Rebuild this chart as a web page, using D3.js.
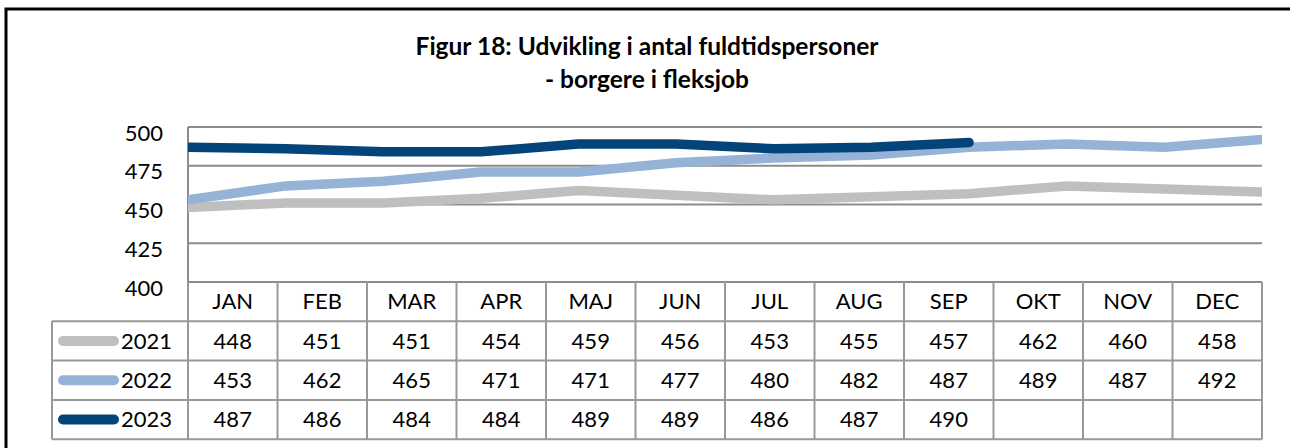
<!DOCTYPE html>
<html>
<head>
<meta charset="utf-8">
<script src="https://cdn.jsdelivr.net/npm/d3@7"></script>
<style>
body { margin: 0; background: #fff; }
text { font-family: Lato, "Open Sans", sans-serif; fill: #000; }
</style>
</head>
<body>
<div id="my_viz"></div>
<script>
const months = ["JAN","FEB","MAR","APR","MAJ","JUN","JUL","AUG","SEP","OKT","NOV","DEC"]
const years = ["2021","2022","2023"]
const v2021 = [448,451,451,454,459,456,453,455,457,462,460,458]
const v2022 = [453,462,465,471,471,477,480,482,487,489,487,492]
const v2023 = [487,486,484,484,489,489,486,487,490]
const yTicks = [400,425,450,475,500]
const colors = ["#bfbfbf","#95b3d7","#03457a"]

const width = 1290
const height = 448
const plot = {left:188, right:1262, top:127, bottom:282}
const rowH = 39.3
const legendLeft = 52
const fs = "22px"

const series = years.map((y,i) => ({key:y, values:[v2021,v2022,v2023][i], color:colors[i]}))

var svg = d3.select("#my_viz")
.append("svg")
.attr("width", width)
.attr("height", height)

// outer chart border
svg.append("rect")
.attr("x", 6).attr("y", 9)
.attr("width", 1320).attr("height", 600)
.attr("fill", "none")
.attr("stroke", "#000")
.attr("stroke-width", 3)

// title
svg.append("text")
.attr("x", 647).attr("y", 55)
.attr("text-anchor", "middle")
.style("font-size", "24.5px").style("font-weight", "bold")
.text("Figur 18: Udvikling i antal fuldtidspersoner")
svg.append("text")
.attr("x", 647).attr("y", 88)
.attr("text-anchor", "middle")
.style("font-size", "24.5px").style("font-weight", "bold")
.text("- borgere i fleksjob")

var yAxis = d3.scaleLinear()
.domain([400, 500])
.range([plot.bottom, plot.top])

var xLine = d3.scalePoint()
.domain(months)
.range([plot.left, plot.right])

var xCol = d3.scaleBand()
.domain(months)
.range([plot.left, plot.right])

// gridlines
svg.append("g")
.selectAll("line")
.data(yTicks)
.join("line")
.attr("x1", plot.left).attr("x2", plot.right)
.attr("y1", d => yAxis(d)).attr("y2", d => yAxis(d))
.attr("stroke", "#8c8c8c").attr("stroke-width", 2)

// y labels (sit a little below their gridline, as in the source)
svg.append("g")
.selectAll("text")
.data(yTicks)
.join("text")
.attr("x", 163)
.attr("y", d => yAxis(d) + 6)
.attr("dy", "0.35em")
.attr("text-anchor", "end")
.style("font-size", fs)
.text(d => d)

// plot left border
svg.append("line")
.attr("x1", plot.left).attr("x2", plot.left)
.attr("y1", plot.top).attr("y2", plot.bottom)
.attr("stroke", "#8c8c8c").attr("stroke-width", 2)

svg.append("clipPath").attr("id", "plotclip")
.append("rect")
.attr("x", plot.left).attr("y", plot.top - 20)
.attr("width", plot.right - plot.left).attr("height", plot.bottom - plot.top + 20)

var line = d3.line()
.x((d,i) => xLine(months[i]))
.y(d => yAxis(d))

svg.append("g")
.attr("clip-path", "url(#plotclip)")
.selectAll("path")
.data(series)
.join("path")
.attr("d", d => line(d.values))
.attr("fill", "none")
.attr("stroke", d => d.color)
.attr("stroke-width", 9.5)
.attr("stroke-linecap", "round")
.attr("stroke-linejoin", "round")

// data table
var table = svg.append("g")
const gridColor = "#999"
const headTop = plot.bottom
const rowsTop = headTop + rowH
const tableBottom = rowsTop + rowH * 3

// header cells
table.selectAll(".head")
.data(months)
.join("text")
.attr("class", "head")
.attr("x", d => xCol(d) + xCol.bandwidth()/2)
.attr("y", headTop + rowH/2 - 1)
.attr("dy", "0.36em")
.attr("text-anchor", "middle")
.style("font-size", fs)
.text(d => d)

// horizontal rules
const hLines = [rowsTop, rowsTop + rowH, rowsTop + rowH*2, tableBottom]
table.selectAll(".hl")
.data(hLines)
.join("line")
.attr("x1", legendLeft).attr("x2", plot.right)
.attr("y1", d => d).attr("y2", d => d)
.attr("stroke", gridColor).attr("stroke-width", 2)

// vertical rules
const vCols = months.map(m => xCol(m)).concat([plot.right])
table.selectAll(".vl")
.data(vCols)
.join("line")
.attr("x1", d => d).attr("x2", d => d)
.attr("y1", headTop).attr("y2", tableBottom)
.attr("stroke", gridColor).attr("stroke-width", 2)
table.append("line")
.attr("x1", legendLeft).attr("x2", legendLeft)
.attr("y1", rowsTop).attr("y2", tableBottom)
.attr("stroke", gridColor).attr("stroke-width", 2)

// rows
var rows = table.selectAll(".row")
.data(series)
.join("g")
.attr("transform", (d,i) => "translate(0," + (rowsTop + rowH*i + rowH/2) + ")")

rows.append("line")
.attr("x1", 63).attr("x2", 114)
.attr("stroke", d => d.color)
.attr("stroke-width", 10)
.attr("stroke-linecap", "round")

rows.append("text")
.attr("x", 121)
.attr("dy", "0.36em")
.style("font-size", fs)
.text(d => d.key)

rows.selectAll(".val")
.data(d => d.values)
.join("text")
.attr("class", "val")
.attr("x", (v,i) => xCol(months[i]) + xCol.bandwidth()/2)
.attr("dy", "0.36em")
.attr("text-anchor", "middle")
.style("font-size", fs)
.text(v => v)
</script>
</body>
</html>
